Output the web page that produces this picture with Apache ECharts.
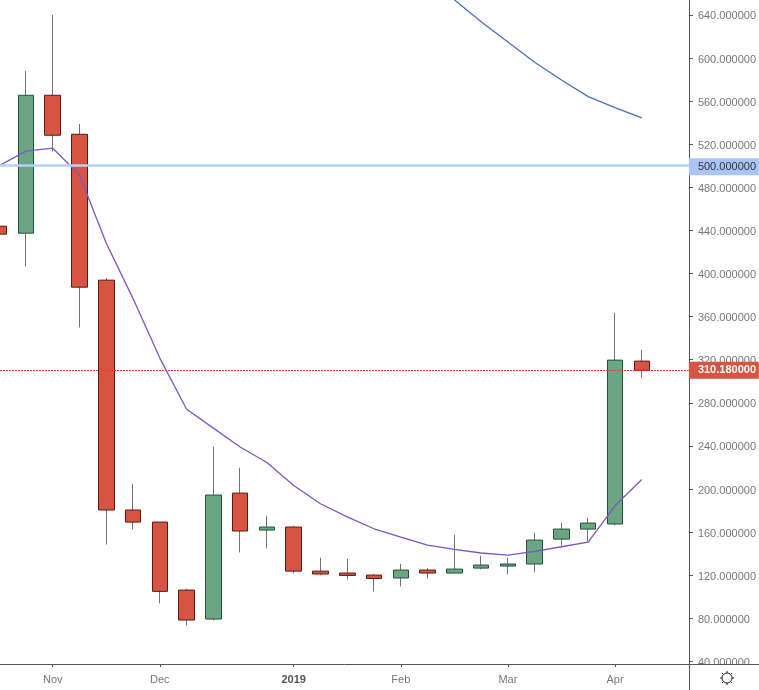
<!DOCTYPE html>
<html>
<head>
<meta charset="utf-8">
<title>Weekly candles</title>
<script src="https://cdn.jsdelivr.net/npm/echarts@6/dist/echarts.min.js"></script>
<style>
  html, body { margin: 0; padding: 0; background: #fff; }
  #main { width: 759px; height: 690px; }
</style>
</head>
<body>
<div id="main"></div>
<script>
// weekly bars, x is the bar number
const bars   = [0, 1, 2, 3, 4, 5, 6, 7, 8, 9, 10, 11, 12, 13, 14, 15, 16, 17, 18, 19, 20, 21, 22, 23, 24]
const opens  = [443.9, 437.4, 565.4, 529.2, 393.8, 180.5, 169.3, 106.2, 79.3, 196.2, 161.9, 164.7, 123.8, 122, 120.1, 117.4, 124.8, 122, 126.6, 128.5, 130.4, 153.5, 162.8, 167.5, 318.7]
const closes = [436.5, 565.4, 528.3, 387.3, 180.5, 169.3, 105, 78.4, 194.4, 161, 164.7, 123.8, 121.1, 119.8, 117, 124.8, 122, 125.7, 129.4, 130.4, 152.6, 162.8, 168.4, 319.6, 310.18]
const lows   = [436.5, 406.4, 513.1, 350, 148.5, 162.5, 93.8, 73.4, 78, 141.1, 144.8, 121.6, 120, 116.1, 105, 109.6, 117, 122, 125.4, 120.7, 122.6, 147.6, 151, 166.2, 303.2]
const highs  = [443.9, 588, 640, 538.8, 395.7, 204.8, 169.3, 107.4, 239.2, 219.7, 175.2, 165.9, 136.2, 135.3, 121.3, 130.6, 126.6, 157.5, 138, 136.2, 159.4, 168.7, 173.3, 363.5, 329.1]

// moving averages
const maFast = [500, 513.5, 516.3, 491.5, 428.1, 376.7, 321.5, 274, 256.5, 239, 224.6, 203.3, 186.3, 174.2, 163.1, 155.4, 148, 143.9, 140.6, 138.7, 142.1, 146.4, 150.8, 184.4, 208.8]
const maSlow = [null, null, null, null, null, null, null, null, null, null, null, null, null, null, null, null, 676, 654, 633.7, 614.9, 596, 579.6, 564.1, 553.9, 544.4]

const priceTicks = [40, 80, 120, 160, 200, 240, 280, 320, 360, 400, 440, 480, 520, 560, 600, 640]
const monthBars = [2, 6, 11, 15, 19, 23]
const monthNames = ['Nov', 'Dec', '2019', 'Feb', 'Mar', 'Apr']
const levelPrice = 500
const lastPrice = 310.18

const upColor = '#6ba583'
const upBorder = '#225437'
const downColor = '#d75442'
const downBorder = '#5b1a13'
const wickColor = '#737375'
const axisColor = '#555555'
const textColor = '#777777'

const bodyData = bars.map((b, i) => [b, opens[i], closes[i], Math.min(opens[i], closes[i]), Math.max(opens[i], closes[i])])
const wickData = bars.map((b, i) => [b, opens[i], closes[i], lows[i], highs[i]])
const pairs = (vals) => bars.map((b, i) => [b, vals[i]])

const fixed6 = (v) => Number(v).toFixed(6)

// settings icon bottom right
const gearRays = []
for (let a = 0; a < 8; a++) {
  const t = a * Math.PI / 4
  gearRays.push({
    type: 'line',
    z: 2,
    shape: { x1: 727 + Math.cos(t) * 5, y1: 678 + Math.sin(t) * 5, x2: 727 + Math.cos(t) * 7, y2: 678 + Math.sin(t) * 7 },
    style: { stroke: '#222', lineWidth: 1 }
  })
}

const chart = echarts.init(document.getElementById('main'))
chart.setOption({
  animation: false,
  backgroundColor: '#fff',
  textStyle: { fontFamily: '"Liberation Sans", Arial, sans-serif' },
  grid: { left: 0, right: 70, top: 0, bottom: 26, containLabel: false },
  xAxis: {
    type: 'value',
    min: 0.03,
    max: 25.76,
    splitLine: { show: false },
    axisLine: { show: true, onZero: false, lineStyle: { color: axisColor, width: 1 } },
    axisTick: { show: true, length: 3, customValues: monthBars, lineStyle: { color: axisColor } },
    axisLabel: {
      customValues: monthBars,
      color: textColor,
      fontSize: 11,
      margin: 10,
      showMinLabel: true,
      showMaxLabel: true,
      formatter: (v) => {
        const name = monthNames[monthBars.indexOf(v)]
        return name === '2019' ? '{b|2019}' : name
      },
      rich: { b: { fontWeight: 'bold', color: '#555', fontSize: 11 } }
    }
  },
  yAxis: {
    type: 'value',
    position: 'right',
    min: 37.6,
    max: 653.8,
    splitLine: { show: false },
    axisLine: { show: true, onZero: false, lineStyle: { color: axisColor, width: 1 } },
    axisTick: { show: true, length: 4, customValues: priceTicks, lineStyle: { color: axisColor } },
    axisLabel: {
      customValues: priceTicks,
      color: textColor,
      fontSize: 11,
      margin: 9,
      formatter: (v) => '{p|' + fixed6(v) + '}',
      rich: { p: { color: textColor, fontSize: 11, padding: [3, 0, 0, 0] } }
    }
  },
  series: [
    {
      name: 'wick',
      type: 'candlestick',
      barWidth: 1,
      silent: true,
      z: 2,
      itemStyle: { color: wickColor, color0: wickColor, borderColor: wickColor, borderColor0: wickColor, borderWidth: 1 },
      data: wickData
    },
    {
      name: 'body',
      type: 'candlestick',
      barWidth: 16,
      silent: true,
      z: 3,
      itemStyle: { color: upColor, color0: downColor, borderColor: upBorder, borderColor0: downBorder, borderWidth: 1 },
      data: bodyData
    },
    {
      name: 'ma fast',
      type: 'line',
      showSymbol: false,
      silent: true,
      z: 4,
      lineStyle: { color: '#7c55c8', width: 1.3 },
      data: pairs(maFast)
    },
    {
      name: 'ma slow',
      type: 'line',
      showSymbol: false,
      silent: true,
      connectNulls: false,
      z: 4,
      lineStyle: { color: '#4a6cc4', width: 1.3 },
      data: pairs(maSlow),
      markLine: {
        silent: true,
        symbol: 'none',
        animation: false,
        z: 5,
        data: [
          {
            yAxis: levelPrice,
            lineStyle: { color: '#b8cff7', width: 2.5, type: 'solid' },
            label: {
              show: true, position: 'end', distance: 0, offset: [0, 1], formatter: (p) => fixed6(p.value),
              color: '#333', backgroundColor: '#a9c5f5', fontSize: 11,
              padding: [3, 0, 3, 9], width: 61, height: 11, lineHeight: 13
            }
          },
          {
            yAxis: lastPrice,
            lineStyle: { color: '#e0402f', width: 1, type: [2, 1] },
            label: {
              show: true, position: 'end', distance: 0, formatter: (p) => fixed6(p.value),
              color: '#fff', fontWeight: 'bold', backgroundColor: downColor, fontSize: 11,
              padding: [3, 0, 3, 9], width: 61, height: 11, lineHeight: 13
            }
          }
        ]
      }
    }
  ],
  graphic: [
    { type: 'rect', z: 1, shape: { x: 690, y: 665, width: 69, height: 25 }, style: { fill: '#fff' }, silent: true },
    { type: 'line', z: 2, shape: { x1: 689, y1: 664.5, x2: 759, y2: 664.5 }, style: { stroke: axisColor, lineWidth: 1 }, silent: true },
    { type: 'line', z: 2, shape: { x1: 689.5, y1: 664, x2: 689.5, y2: 690 }, style: { stroke: axisColor, lineWidth: 1 }, silent: true },
    { type: 'circle', z: 2, shape: { cx: 727, cy: 678, r: 5 }, style: { stroke: '#222', fill: '#fff', lineWidth: 1 }, silent: true },
    { type: 'group', silent: true, children: gearRays }
  ]
})
</script>
</body>
</html>
